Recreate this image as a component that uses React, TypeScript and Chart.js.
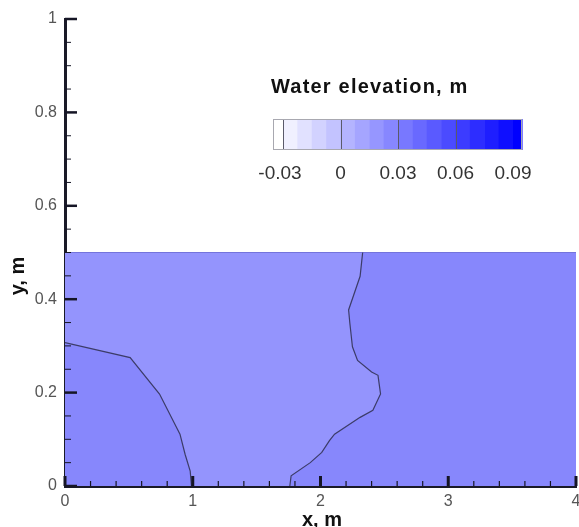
import React, { useEffect, useRef } from 'react';
import { Chart, registerables } from 'chart.js';

Chart.register(...registerables);

// ---- data ----
const xRange = [0, 4];
const yRange = [0, 1];
const domainTop = 0.5;

// contour separating left (outer) region and middle region
const leftContourX = [0, 0.51, 0.74, 0.9, 0.94, 0.98, 0.99];
const leftContourY = [0.307, 0.275, 0.197, 0.111, 0.068, 0.032, 0];

// contour separating middle region and right (outer) region, top to bottom
const rightContourX = [2.33, 2.31, 2.22, 2.23, 2.25, 2.29, 2.4, 2.45, 2.47, 2.41, 2.31, 2.11, 2.07, 2.01, 1.92, 1.77, 1.76];
const rightContourY = [0.5, 0.449, 0.377, 0.348, 0.298, 0.269, 0.244, 0.237, 0.197, 0.162, 0.147, 0.111, 0.097, 0.072, 0.05, 0.022, 0];

const outerColor = '#8787fc';
const middleColor = '#9494fd';
const contourColor = '#3c3c68';

const legendTitle = 'Water elevation, m';
const legendLabels = ['-0.03', '0', '0.03', '0.06', '0.09'];
const legendColors = [
  '#ffffff', '#f0f0ff', '#e1e1ff', '#d2d2ff', '#c3c3ff', '#b4b4ff', '#a5a5ff', '#9696ff', '#8787ff',
  '#7878ff', '#6969ff', '#5a5aff', '#4b4bff', '#3c3cff', '#2d2dff', '#1e1eff', '#0f0fff', '#0000ff',
];

const xTitle = 'x, m';
const yTitle = 'y, m';

const FONT = '"Liberation Sans", Arial, Helvetica, sans-serif';

function pts(xs: number[], ys: number[]) {
  return xs.map((x, i) => ({ x, y: ys[i] }));
}

const fmt = (v: number) => String(Number(Number(v).toFixed(3)));

const decorPlugin = {
  id: 'decor',
  afterDraw(chart: any) {
    const ctx: CanvasRenderingContext2D = chart.ctx;
    const xs = chart.scales.x;
    const ys = chart.scales.y;
    const left = chart.chartArea.left;
    const bottom = chart.chartArea.bottom;
    ctx.save();
    ctx.strokeStyle = '#151525';
    // y ticks (inward)
    for (let i = 0; i <= 20; i++) {
      const major = i % 4 === 0;
      const py = ys.getPixelForValue(i * 0.05);
      ctx.lineWidth = major ? 2.5 : 1;
      ctx.beginPath();
      ctx.moveTo(left, py);
      ctx.lineTo(left + (major ? 12 : 6), py);
      ctx.stroke();
    }
    // x ticks (inward)
    for (let i = 0; i <= 20; i++) {
      const major = i % 5 === 0;
      const px = xs.getPixelForValue(i * 0.2);
      ctx.lineWidth = major ? 3 : 1.2;
      ctx.beginPath();
      ctx.moveTo(px, bottom);
      ctx.lineTo(px, bottom - (major ? 10 : 5));
      ctx.stroke();
    }

    // axis titles
    ctx.fillStyle = '#111';
    ctx.font = `bold 20px ${FONT}`;
    ctx.textAlign = 'center';
    ctx.textBaseline = 'middle';
    ctx.fillText(xTitle, 322, 520);
    ctx.save();
    ctx.translate(18, 276);
    ctx.rotate(-Math.PI / 2);
    ctx.fillText(yTitle, 0, 0);
    ctx.restore();

    // legend title
    ctx.textAlign = 'left';
    ctx.textBaseline = 'alphabetic';
    ctx.font = `bold 20px ${FONT}`;
    (ctx as any).letterSpacing = '1.2px';
    ctx.fillText(legendTitle, 271, 93);
    (ctx as any).letterSpacing = '0px';

    // colour bar
    const boxL = 273, boxR = 522, boxT = 119, boxB = 150;
    const firstLine = 283, lastLine = 513;
    const cellW = (lastLine - firstLine) / 16;
    const edges: number[] = [boxL];
    for (let i = 0; i <= 16; i++) edges.push(firstLine + i * cellW);
    edges.push(boxR);
    for (let i = 0; i < legendColors.length; i++) {
      ctx.fillStyle = legendColors[i];
      ctx.fillRect(edges[i], boxT, edges[i + 1] - edges[i] + 0.5, boxB - boxT);
    }
    ctx.strokeStyle = '#5a5a6a';
    ctx.lineWidth = 1;
    for (let k = 0; k < 4; k++) {
      const px = Math.round(firstLine + k * 4 * cellW) + 0.5;
      ctx.beginPath();
      ctx.moveTo(px, boxT);
      ctx.lineTo(px, boxB);
      ctx.stroke();
    }
    ctx.strokeStyle = '#a8a8b0';
    ctx.strokeRect(boxL + 0.5, boxT + 0.5, boxR - boxL - 1, boxB - boxT - 1);

    ctx.fillStyle = '#333';
    ctx.font = `19px ${FONT}`;
    ctx.textAlign = 'center';
    ctx.textBaseline = 'alphabetic';
    legendLabels.forEach((lab, k) => {
      ctx.fillText(lab, firstLine + k * 4 * cellW - (k === 0 ? 3 : 0), 179);
    });
    ctx.restore();
  },
};

export default function App() {
  const ref = useRef<HTMLCanvasElement | null>(null);
  useEffect(() => {
    if (!ref.current) return;
    const baseRect = [
      { x: xRange[0], y: 0 },
      { x: xRange[1], y: 0 },
      { x: xRange[1], y: domainTop },
      { x: xRange[0], y: domainTop },
    ];
    const leftPts = pts(leftContourX, leftContourY);
    const rightPts = pts(rightContourX, rightContourY);
    const middlePoly = [...leftPts, ...rightPts.slice().reverse(), { x: xRange[0], y: domainTop }];
    const topEdge = [
      { x: xRange[0], y: domainTop },
      { x: xRange[1], y: domainTop },
    ];

    const chart = new Chart(ref.current, {
      type: 'scatter',
      data: {
        datasets: [
          { data: leftPts, showLine: true, borderColor: contourColor, borderWidth: 1.2, pointRadius: 0, fill: false },
          { data: rightPts, showLine: true, borderColor: contourColor, borderWidth: 1.2, pointRadius: 0, fill: false },
          { data: topEdge, showLine: true, borderColor: '#7474dc', borderWidth: 1.2, pointRadius: 0, fill: false },
          { data: middlePoly, showLine: true, borderWidth: 0, borderColor: middleColor, backgroundColor: middleColor, pointRadius: 0, fill: 'shape' },
          { data: baseRect, showLine: true, borderWidth: 0, borderColor: outerColor, backgroundColor: outerColor, pointRadius: 0, fill: 'shape' },
        ] as any,
      },
      options: {
        animation: false,
        responsive: false,
        devicePixelRatio: 1,
        layout: { padding: { top: 19, right: 3, left: 0, bottom: 0 } },
        plugins: { legend: { display: false }, tooltip: { enabled: false } },
        scales: {
          x: {
            type: 'linear',
            min: xRange[0],
            max: xRange[1],
            grid: { display: false, drawTicks: false },
            border: { display: true, color: '#1a1a28', width: 3 },
            ticks: { stepSize: 1, padding: 6, color: '#555', font: { family: FONT, size: 16 }, callback: (v: any) => fmt(v) },
            afterFit: (s: any) => {
              s.height = 41;
              s.paddingLeft = 0;
              s.paddingRight = 0;
            },
          },
          y: {
            type: 'linear',
            min: yRange[0],
            max: yRange[1],
            grid: { display: false, drawTicks: false },
            border: { display: true, color: '#1a1a28', width: 3 },
            ticks: { stepSize: 0.2, padding: 8, color: '#555', font: { family: FONT, size: 16 }, callback: (v: any) => fmt(v) },
            afterFit: (s: any) => {
              s.width = 65;
              s.paddingTop = 0;
              s.paddingBottom = 0;
            },
          },
        },
      } as any,
      plugins: [decorPlugin],
    });
    return () => chart.destroy();
  }, []);
  return (
    <div style={{ position: 'fixed', left: 0, top: 0, width: 579, height: 527, background: '#fff' }}>
      <canvas ref={ref} width={579} height={527} />
    </div>
  );
}
